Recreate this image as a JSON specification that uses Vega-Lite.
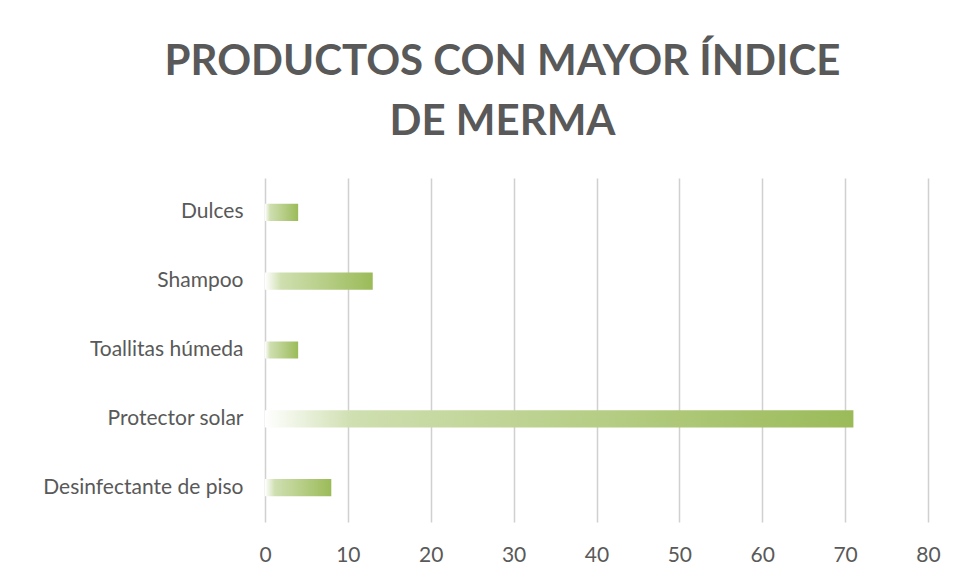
{
  "$schema": "https://vega.github.io/schema/vega-lite/v6.json",
  "width": 663,
  "height": 344,
  "autosize": {"type": "none"},
  "padding": {"left": 265, "top": 178, "right": 30, "bottom": 58},
  "background": "white",
  "title": {
    "text": ["PRODUCTOS CON MAYOR ÍNDICE", "DE MERMA"],
    "font": "Lato",
    "fontWeight": "bold",
    "fontSize": 42,
    "lineHeight": 60,
    "color": "#595959",
    "anchor": "middle",
    "dx": -94,
    "offset": 34
  },
  "data": {
    "values": [
      {"producto": "Dulces", "valor": 4},
      {"producto": "Shampoo", "valor": 13},
      {"producto": "Toallitas húmeda", "valor": 4},
      {"producto": "Protector solar", "valor": 71},
      {"producto": "Desinfectante de piso", "valor": 8}
    ]
  },
  "mark": {
    "type": "bar",
    "color": {
      "gradient": "linear",
      "x1": 0, "y1": 0, "x2": 1, "y2": 0,
      "stops": [
        {"offset": 0, "color": "#ffffff"},
        {"offset": 0.15, "color": "#cfdfb0"},
        {"offset": 1, "color": "#9bbb59"}
      ]
    }
  },
  "encoding": {
    "y": {
      "field": "producto",
      "type": "nominal",
      "sort": null,
      "scale": {"paddingInner": 0.75, "paddingOuter": 0.375},
      "axis": {
        "title": null,
        "domain": false,
        "ticks": false,
        "labelFont": "Lato",
        "labelFontSize": 21,
        "labelColor": "#595959",
        "labelPadding": 22,
        "labelLimit": 300
      }
    },
    "x": {
      "field": "valor",
      "type": "quantitative",
      "scale": {"domain": [0, 80], "nice": false},
      "axis": {
        "title": null,
        "values": [0, 10, 20, 30, 40, 50, 60, 70, 80],
        "domain": false,
        "ticks": false,
        "grid": true,
        "gridColor": "#d0d0d0",
        "gridWidth": 1.5,
        "labelFont": "Lato",
        "labelFontSize": 21,
        "labelColor": "#595959",
        "labelPadding": 22,
        "labelFlush": false
      }
    }
  },
  "config": {
    "view": {"stroke": null}
  }
}
